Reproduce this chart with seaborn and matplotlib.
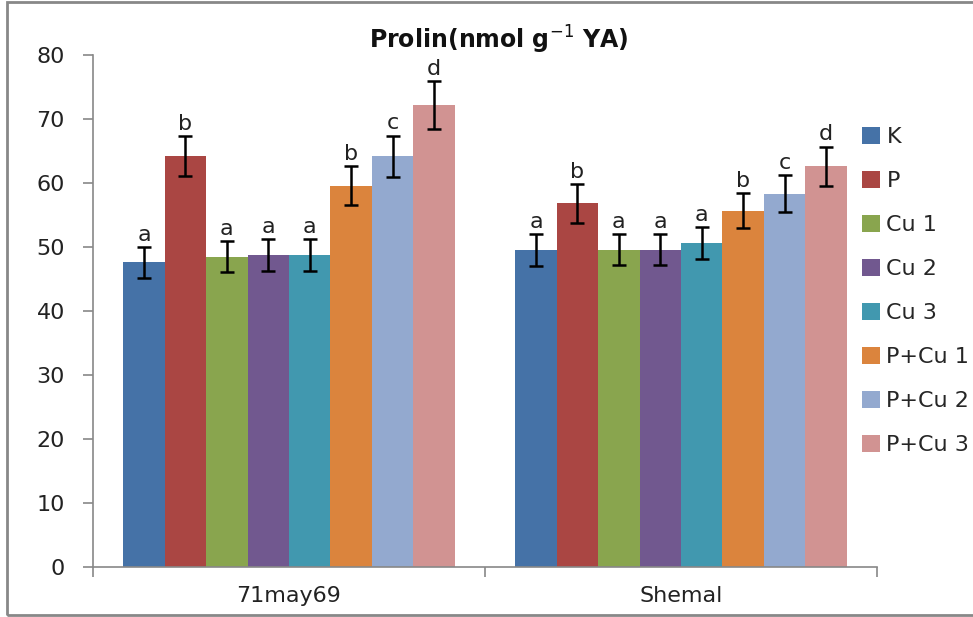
import numpy as np
import pandas as pd
import matplotlib
matplotlib.use("Agg")
import matplotlib.pyplot as plt
from matplotlib.patches import Rectangle
import seaborn as sns

# ---- data ----
cultivars = ["71may69", "Shemal"]
treatments = ["K", "P", "Cu 1", "Cu 2", "Cu 3", "P+Cu 1", "P+Cu 2", "P+Cu 3"]
vals_71may69 = [47.6, 64.2, 48.5, 48.7, 48.7, 59.6, 64.2, 72.2]
vals_shemal = [49.5, 56.8, 49.6, 49.6, 50.6, 55.7, 58.3, 62.6]
err_71may69 = [2.4, 3.1, 2.4, 2.5, 2.5, 3.0, 3.2, 3.7]
err_shemal = [2.5, 3.0, 2.4, 2.4, 2.5, 2.7, 2.9, 3.1]
letters_71may69 = ["a", "b", "a", "a", "a", "b", "c", "d"]
letters_shemal = ["a", "b", "a", "a", "a", "b", "c", "d"]
colors = ["#4572A7", "#AA4643", "#89A54E", "#71588F",
          "#4198AF", "#DB843D", "#93A9CF", "#D19392"]
yticks = [0, 10, 20, 30, 40, 50, 60, 70, 80]

df = pd.DataFrame({
    "cultivar": np.repeat(cultivars, len(treatments)),
    "treatment": treatments * len(cultivars),
    "value": vals_71may69 + vals_shemal,
    "err": err_71may69 + err_shemal,
    "letter": letters_71may69 + letters_shemal,
})

sns.set_style("white")
plt.rcParams["font.family"] = ["DejaVu Sans"]

fig = plt.figure(figsize=(9.73, 6.17), dpi=100)
ax = fig.add_axes([93 / 973, 1 - 567 / 617, (877 - 93) / 973, (567 - 55) / 617])

sns.barplot(data=df, x="cultivar", y="value", hue="treatment",
            order=cultivars, hue_order=treatments, palette=colors,
            width=0.845, errorbar=None, saturation=1, ax=ax,
            edgecolor="none", linewidth=0)

# error bars and letters at bar centres (from the drawn patches)
bar_containers = list(ax.containers)
for hi, cont in enumerate(bar_containers):
    for ci, p in enumerate(cont.patches):
        row = df[(df.cultivar == cultivars[ci]) & (df.treatment == treatments[hi])].iloc[0]
        xc = p.get_x() + p.get_width() / 2
        ax.errorbar(xc, row.value, yerr=row.err, fmt="none", ecolor="black",
                    elinewidth=1.8, capsize=4.7, capthick=1.8, zorder=5)
        ax.text(xc, row.value + row.err + 1.9, row.letter, ha="center",
                va="center", fontsize=16, color="#222222", zorder=6)

ax.set_ylim(0, 80)
ax.set_xlim(-0.5, 1.5)
ax.set_yticks(yticks)
ax.set_xticks([-0.5, 0.5, 1.5])
ax.set_xticklabels([])
ax.set_xticks([0, 1], minor=True)
ax.set_xticklabels(cultivars, minor=True)
ax.tick_params(axis="x", which="major", length=7, color="#888888", width=1.2, direction="out", bottom=True)
ax.tick_params(axis="x", which="minor", length=0, labelsize=16, pad=14, labelcolor="#222222")
ax.tick_params(axis="y", length=7.2, color="#888888", width=1.2, direction="out", left=True,
               labelsize=16, pad=13, labelcolor="#222222")
ax.set_xlabel("")
ax.set_ylabel("")
for s in ["top", "right"]:
    ax.spines[s].set_visible(False)
for s in ["left", "bottom"]:
    ax.spines[s].set_color("#888888")
    ax.spines[s].set_linewidth(1.2)

# legend
handles, labels = ax.get_legend_handles_labels()
ax.legend(handles, labels, loc="upper left", bbox_to_anchor=(862 / 973, 1 - 127 / 617),
          bbox_transform=fig.transFigure, frameon=False, fontsize=16,
          handlelength=0.8, handleheight=0.8, handletextpad=0.3,
          labelspacing=1.07, borderaxespad=0, borderpad=0)

fig.text(499 / 973, 1 - 40 / 617, "Prolin(nmol g$^{-1}$ YA)", ha="center", va="center",
         fontsize=17, fontweight="bold", color="#111111")

# outer frame
fig.patches.append(Rectangle((7 / 973, 2 / 617), 1.1, 1 - 4 / 617,
                             transform=fig.transFigure, fill=False,
                             edgecolor="#888888", linewidth=2, zorder=0))

fig.savefig("out.png", dpi=100)
